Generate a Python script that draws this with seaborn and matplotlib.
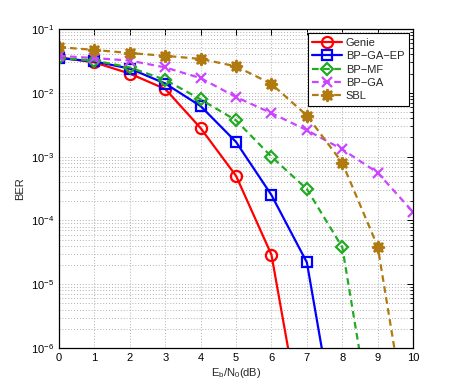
import numpy as np
import pandas as pd
import matplotlib
matplotlib.use("Agg")
import matplotlib.pyplot as plt
import seaborn as sns
from matplotlib.ticker import LogLocator, NullFormatter, FixedLocator

snr_genie = [0, 1, 2, 3, 4, 5, 6, 7]
ber_genie = [0.036, 0.030, 0.020, 0.0115, 0.0028, 0.0005, 2.9e-5, 2.2e-8]

snr_ep = [0, 1, 2, 3, 4, 5, 6, 7, 8]
ber_ep = [0.035, 0.031, 0.024, 0.014, 0.0062, 0.0017, 2.5e-4, 2.2e-5, 1.4e-8]

snr_mf = [0, 1, 2, 3, 4, 5, 6, 7, 8, 9]
ber_mf = [0.035, 0.032, 0.025, 0.016, 0.0079, 0.0037, 0.001, 3.1e-4, 3.8e-5, 1.7e-8]

snr_ga = [0, 1, 2, 3, 4, 5, 6, 7, 8, 9, 10]
ber_ga = [0.038, 0.035, 0.032, 0.025, 0.017, 0.0086, 0.0048, 0.0026, 0.0013, 5.6e-4, 1.35e-4]

snr_sbl = [0, 1, 2, 3, 4, 5, 6, 7, 8, 9, 10]
ber_sbl = [0.052, 0.047, 0.042, 0.038, 0.034, 0.026, 0.0138, 0.0044, 8e-4, 3.9e-5, 1.6e-8]

labels = ["Genie", "BP\u2212GA\u2212EP", "BP\u2212MF", "BP\u2212GA", "SBL"]
xticks = list(range(0, 11))

sns.set_style("white")
plt.rcParams['font.family'] = ['Liberation Sans', 'DejaVu Sans']
plt.rcParams['mathtext.fontset'] = 'custom'
plt.rcParams['mathtext.rm'] = 'Liberation Sans'
plt.rcParams['mathtext.it'] = 'Liberation Sans'

fig = plt.figure(figsize=(4.57, 3.92), dpi=100)
ax = fig.add_axes([0.129, 0.112, 0.775, 0.814])

series = [
    (snr_genie, ber_genie, labels[0], "#ff0000", "o", "-", 8, "none"),
    (snr_ep, ber_ep, labels[1], "#0000ff", "s", "-", 7, "none"),
    (snr_mf, ber_mf, labels[2], "#22aa22", "D", (0, (3, 2)), 6.5, "none"),
    (snr_ga, ber_ga, labels[3], "#cc44ff", "x", (0, (3, 2)), 7, None),
    (snr_sbl, ber_sbl, labels[4], "#b07a10", (8, 1, 0), (0, (3, 2)), 9, None),
]

for xs, ys, lab, col, mk, ls, ms, mfc in series:
    df = pd.DataFrame({"x": xs, "y": ys})
    kw = dict(marker=mk, markersize=ms, markeredgewidth=1.6, markeredgecolor=col)
    kw["markerfacecolor"] = mfc if mfc is not None else col
    sns.lineplot(data=df, x="x", y="y", ax=ax, color=col, linewidth=1.6,
                 linestyle=ls, label=lab, **kw)

ax.set_yscale("log")
ax.set_xlim(0, 10)
ax.set_ylim(1e-6, 1e-1)
ax.xaxis.set_major_locator(FixedLocator(xticks))
ax.yaxis.set_major_locator(LogLocator(base=10, numticks=10))
ax.yaxis.set_minor_locator(LogLocator(base=10, subs=np.arange(2, 10), numticks=10))
ax.yaxis.set_minor_formatter(NullFormatter())

ax.grid(True, which="major", axis="both", color="#b0b0b0", linestyle=(0, (1, 2)), linewidth=0.7)
ax.grid(True, which="minor", axis="y", color="#b0b0b0", linestyle=(0, (1, 2)), linewidth=0.7)

ax.tick_params(which="both", direction="in", top=True, right=True, labelsize=8, colors="black")
ax.tick_params(which="major", length=4, width=0.7)
ax.tick_params(which="minor", length=2, width=0.6)
for sp in ax.spines.values():
    sp.set_color("black")
    sp.set_linewidth(0.9)

ax.set_xlabel("E$_\\mathregular{b}$/N$_\\mathregular{0}$(dB)", fontsize=8, labelpad=2)
ax.set_ylabel("BER", fontsize=8, labelpad=4)

leg = ax.legend(loc="upper right", fontsize=8, frameon=True, fancybox=False,
                edgecolor="black", framealpha=1, handlelength=2.7,
                borderpad=0.4, labelspacing=0.3, handletextpad=0.3,
                borderaxespad=0.4)
leg.get_frame().set_linewidth(0.8)

fig.savefig("out.png", dpi=100, facecolor="white")
